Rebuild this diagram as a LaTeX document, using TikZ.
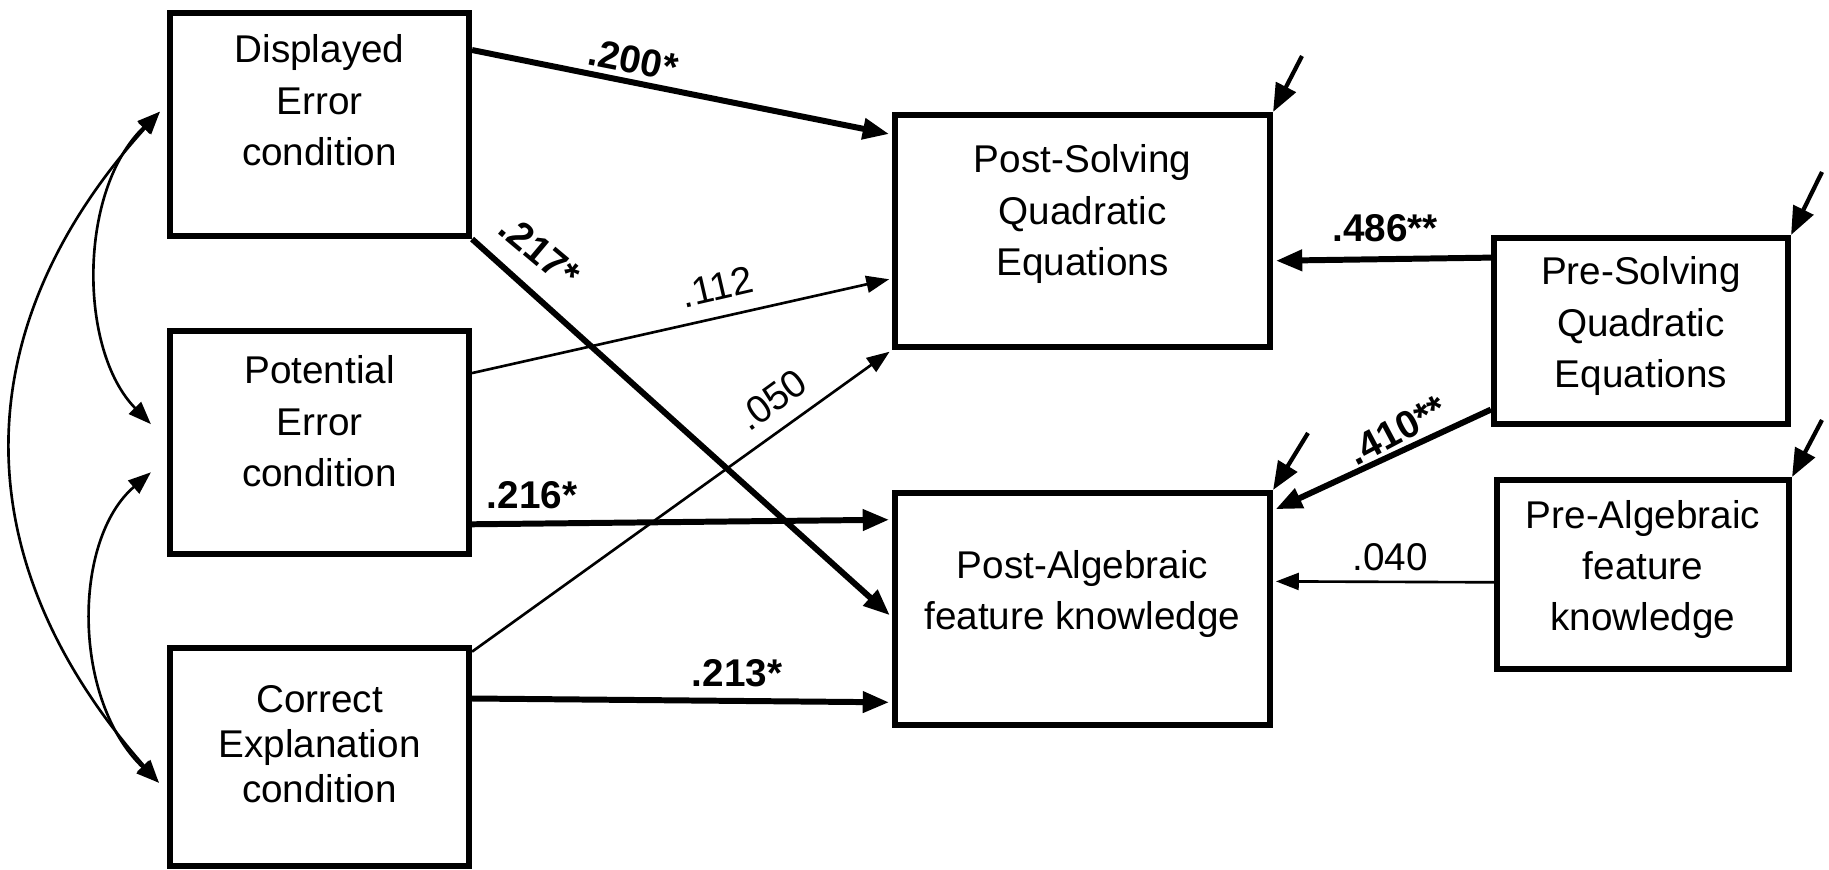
\documentclass[tikz,border=0pt]{standalone}
\usepackage{fontspec}
\setmainfont{Liberation Sans}
\usetikzlibrary{arrows.meta,calc}
\newcommand{\mlines}[2][14.6pt]{{\fontsize{11}{#1}\selectfont\renewcommand\arraystretch{1}\begin{tabular}[t]{@{}c@{}}#2\end{tabular}}}
\begin{document}
\begin{tikzpicture}[x=0.01cm,y=-0.01cm,
  box/.style={draw, rectangle, line width=1.7pt, inner sep=0pt},
  txt/.style={inner sep=0pt, anchor=base},
  thk/.style={line width=1.7pt, shorten >=0.8pt, -{Triangle[length=7.5pt,width=5.8pt]}},
  thn/.style={line width=0.75pt, shorten >=0.8pt, -{Triangle[length=6.5pt,width=4.8pt]}},
  res/.style={line width=1.2pt, -{Triangle[length=8pt,width=6.2pt]}},
  cov/.style={line width=0.75pt, {Triangle[length=6.5pt,width=4.8pt]}-{Triangle[length=6.5pt,width=4.8pt]}},
  lab/.style={inner sep=0pt, font=\fontsize{11}{13}\selectfont},
  blab/.style={inner sep=0pt, font=\fontsize{11}{13}\selectfont\bfseries}]
\useasboundingbox (0,0) rectangle (1829,870);

% boxes
\node[box, minimum width=29.9mm, minimum height=22.3mm] (D) at (319.5,124.5) {};
\node[box, minimum width=29.9mm, minimum height=22.3mm] (P) at (319.5,442.5) {};
\node[box, minimum width=29.9mm, minimum height=21.8mm] (C) at (319.5,757) {};
\node[box, minimum width=37.5mm, minimum height=23.2mm] (PS) at (1082.5,231) {};
\node[box, minimum width=37.5mm, minimum height=23.2mm] (PA) at (1082.5,609) {};
\node[box, minimum width=29.4mm, minimum height=18.6mm] (RS) at (1641,331) {};
\node[box, minimum width=29.2mm, minimum height=18.9mm] (RA) at (1643,574.5) {};

% texts
\node[txt] (tD) at (319.5,63) {\mlines{Displayed\\Error\\condition}};
\node[txt] (tP) at (319.5,384) {\mlines{Potential\\Error\\condition}};
\node[txt] (tC) at (319.5,712) {\mlines[12.8pt]{Correct\\Explanation\\condition}};
\node[txt] (tPS) at (1082.5,173) {\mlines{Post-Solving\\Quadratic\\Equations}};
\node[txt] (tPA) at (1082.5,578) {\mlines{Post-Algebraic\\feature knowledge}};
\node[txt] (tRS) at (1641,285) {\mlines{Pre-Solving\\Quadratic\\Equations}};
\node[txt] (tRA) at (1643,528) {\mlines{Pre-Algebraic\\feature\\knowledge}};

% paths
\draw[thk] ($(D.north east)!0.175!(D.south east)$) -- ($(PS.north west)!0.095!(PS.south west)$);
\draw[thk] (D.south east) -- ($(PA.north west)!0.534!(PA.south west)$);
\draw[thn] ($(P.north east)!0.197!(P.south east)$) -- ($(PS.north west)!0.70!(PS.south west)$);
\draw[thk] ($(P.north east)!0.857!(P.south east)$) -- ($(PA.north west)!0.125!(PA.south west)$);
\draw[thn] ($(C.north east)!0.03!(C.south east)$) -- (PS.south west);
\draw[thk] ($(C.north east)!0.239!(C.south east)$) -- ($(PA.north west)!0.892!(PA.south west)$);
\draw[thk] ($(RS.north west)!0.118!(RS.south west)$) -- ($(PS.north east)!0.625!(PS.south east)$);
\draw[thk] ($(RS.north west)!0.909!(RS.south west)$) -- ($(PA.north east)!0.086!(PA.south east)$);
\draw[thn] ($(RA.north west)!0.54!(RA.south west)$) -- ($(PA.north east)!0.384!(PA.south east)$);

% labels
\node[blab, rotate=-11] (l200) at (633,60) {.200*};
\node[blab, rotate=-40] (l217) at (540,251) {.217*};
\node[lab, rotate=13] (l112) at (717,287) {.112};
\node[lab, rotate=36] (l050) at (772,400) {.050};
\node[blab] (l216) at (532,495) {.216*};
\node[blab] (l213) at (737,673) {.213*};
\node[blab] (l486) at (1385,228) {.486**};
\node[blab, rotate=28] (l410) at (1397,430) {.410**};
\node[lab] (l040) at (1390,557) {.040};

% covariances
\draw[cov] ($(D.north west)!0.444!(D.south west)+(-7,0)$) .. controls (78,190) and (78,350) .. ($(P.north west)!0.42!(P.south west)+(-16,0)$);
\draw[cov] ($(P.north west)!0.63!(P.south west)+(-16,0)$) .. controls (72,540) and (72,700) .. ($(C.north west)!0.615!(C.south west)+(-8,0)$);
\draw[cov] ($(D.north west)!0.444!(D.south west)+(-7,0)$) .. controls (-37,330) and (-37,560) .. ($(C.north west)!0.615!(C.south west)+(-8,0)$);

% residuals
\coordinate (ePS) at (1302,56);
\coordinate (eRS) at (1822,172);
\coordinate (ePA) at (1308,433);
\coordinate (eRA) at (1822,420);
\draw[res] (ePS) -- (PS.north east);
\draw[res] (eRS) -- (RS.north east);
\draw[res] (ePA) -- (PA.north east);
\draw[res] (eRA) -- (RA.north east);
\end{tikzpicture}
\end{document}
